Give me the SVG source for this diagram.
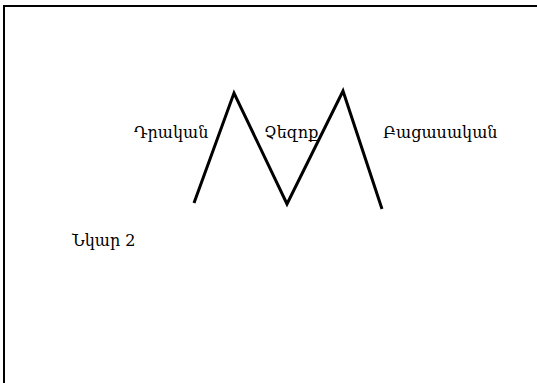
<svg xmlns="http://www.w3.org/2000/svg" width="537" height="383" viewBox="0 0 537 383">
<style>
.t{font-family:"DejaVu Serif","Noto Serif","Noto Sans",serif;font-size:16px;fill:#000}
.frame{stroke:#000;stroke-width:2;fill:none}
.z{stroke:#000;stroke-width:3;fill:none;stroke-linejoin:miter}
</style>
<rect width="537" height="383" fill="#fff"/>
<path class="frame" d="M3,6 H537 M4,6 V383"/>
<g id="connectors">
<polyline class="z" points="194,203 234,93 287,204 343,91 382,209"/>
</g>
<g id="n1"><text class="t" x="134" y="138">Դրական</text></g>
<g id="n2"><text class="t" x="264" y="138">Չեզոք</text></g>
<g id="n3"><text class="t" x="383" y="138">Բացասական</text></g>
<g id="n4"><text class="t" x="72" y="246">Նկար 2</text></g>
</svg>
